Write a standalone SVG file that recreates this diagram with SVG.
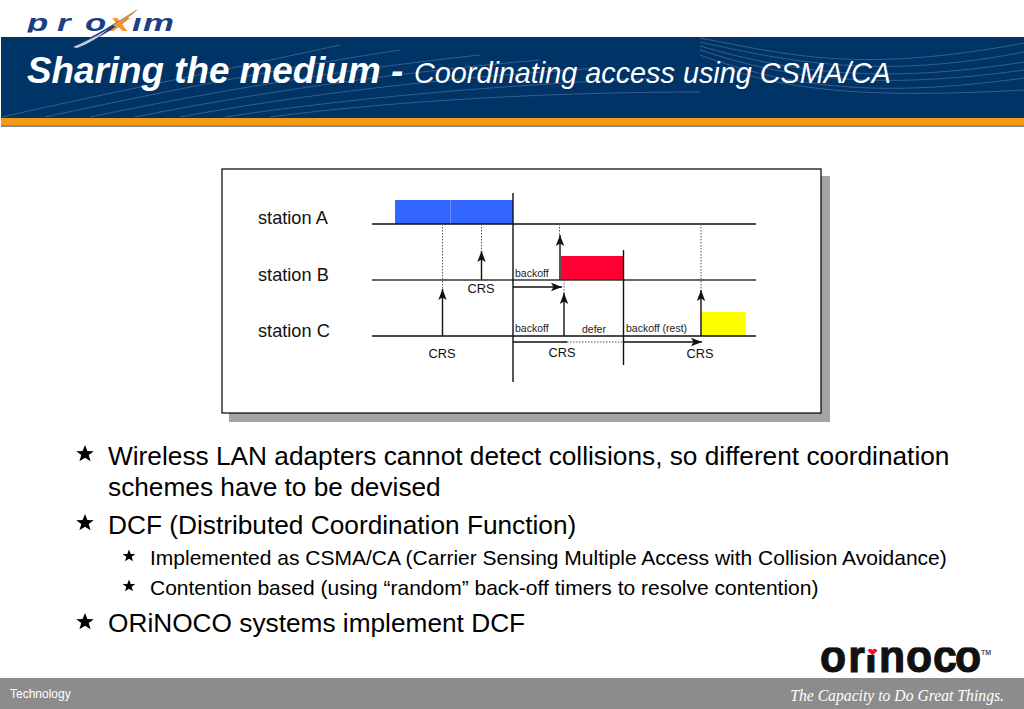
<svg xmlns="http://www.w3.org/2000/svg" width="1024" height="709" viewBox="0 0 1024 709">
<style>
text{font-family:"Liberation Sans",Arial,sans-serif}
.ax{stroke:#111;stroke-width:1.4;fill:none}
.ln{stroke:#333;stroke-width:1.4;fill:none}
.dot{stroke:#555;stroke-width:1;stroke-dasharray:1.5 1.5;fill:none}
.ar{stroke:#111;stroke-width:1.4;fill:none;marker-end:url(#ah)}
.lb{font-size:12.8px;fill:#111;text-anchor:middle}
.st{font-size:18.2px;fill:#111}
.sm{font-size:10.5px;fill:#222}
.b1{font-size:26.25px;fill:#000}
.b2{font-size:21px;fill:#000}
.sw{stroke:#5f7fa5;stroke-width:.8;fill:none;opacity:.7}
</style>
<defs>
<marker id="ah" markerUnits="userSpaceOnUse" markerWidth="12" markerHeight="10" refX="11" refY="5" orient="auto">
<path d="M0,0.8 L11,5 L0,9.200 L2.500,5Z" fill="#111"/>
</marker>
<polygon id="star" points="0,-9 2.400,-2.900 8.800,-2.800 3.700,1.100 5.600,7.300 0,3.700 -5.600,7.300 -3.700,1.100 -8.800,-2.800 -2.400,-2.900"/>
<clipPath id="pc"><rect x="0" y="17.500" width="200" height="15"/></clipPath>
<clipPath id="oc"><rect x="800" y="647.500" width="200" height="30"/></clipPath>
</defs>
<rect width="1024" height="709" fill="#fff"/>
<g id="header">
<rect x="1" y="37" width="1023" height="81" fill="#003366"/>
<g class="swoosh">
<path class="sw" d="M2,117 C120,90 250,65 340,45"/>
<path class="sw" d="M45,117 C170,90 300,65 400,50"/>
<path class="sw" d="M90,117 C210,92 340,70 480,55"/>
<path class="sw" d="M135,117 C260,92 400,72 540,60"/>
<path class="sw" d="M180,117 C300,95 440,78 600,68"/>
<path class="sw" d="M225,117 C350,98 500,85 660,78"/>
<path class="sw" d="M270,117 C400,100 560,92 700,92"/>
<path class="sw" d="M700,38 C790,55 860,74 1024,43"/>
<path class="sw" d="M700,42 C790,62 880,80 1024,52"/>
<path class="sw" d="M700,46 C790,72 880,85 1024,62"/>
<path class="sw" d="M700,50 C790,80 880,90 1024,70"/>
<path class="sw" d="M700,55 C790,88 880,98 1024,78"/>
<path class="sw" d="M730,70 C800,92 880,98 1024,90"/>
</g>
<rect x="1" y="118" width="1023" height="7" fill="#f29a12"/>
<rect x="1" y="125" width="1023" height="2" fill="#8a8a8a"/>
<text x="27" y="82.500" font-size="36.800" font-weight="bold" font-style="italic" fill="#fff">Sharing the medium -</text>
<text x="414" y="83" font-size="28.800" font-style="italic" fill="#fff">Coordinating access using CSMA/CA</text>
</g>
<g id="logo-proxim">
<g clip-path="url(#pc)">
<text transform="scale(1.45 1)" x="18.600 39.300 58.600 75.900 91 98.600" y="31.500" font-size="24" font-weight="bold" font-style="italic" fill="#1c3f86">pro<tspan fill="#f29a2e">x</tspan>im</text>
</g>
<path d="M73,47 C95,35 118,22 138,9 C122,24 100,38 77,48Z" fill="#1c3f86"/>
<path d="M73,47 C90,40 100,34 108,29 C100,37 88,44 77,48Z" fill="#c8cede"/>
<path d="M113,25 L138,9 L120,24 L127,31 L114,26Z" fill="#f29a2e"/>
</g>
<g id="panel">
<rect x="229" y="176" width="601" height="246" fill="#a3a3a8"/>
<rect x="222" y="169" width="599" height="244" fill="#fff" stroke="#000" stroke-width="1.2"/>
</g>
<g id="station-a">
<text class="st" x="258" y="224">station A</text>
<rect x="395" y="200" width="118" height="24" fill="#3366ff"/>
<path d="M450.500,200V224" stroke="#6b8dff" stroke-width="1"/>
</g>
<g id="station-b">
<text class="st" x="258" y="281">station B</text>
<rect x="561" y="256" width="62" height="24" fill="#ff0033"/>
</g>
<g id="station-c">
<text class="st" x="258" y="337">station C</text>
<rect x="701" y="312" width="45" height="24" fill="#ffff00"/>
</g>
<g id="connectors">
<path class="ax" d="M372,224H756"/>
<path class="ln" d="M372,280H756"/>
<path class="ax" d="M372,336H756"/>
<path class="ax" d="M513,193V382"/>
<path class="ax" d="M623.500,250V365"/>
<path class="dot" d="M442.500,224V289M481.500,224V251M559.500,224V235M564,280V293M701,224V290M567,342H623"/>
<path class="ar" d="M442.500,336V289"/>
<path class="ar" d="M481.500,280V251"/>
<path class="ar" d="M560,280V235"/>
<path class="ar" d="M564,336V293"/>
<path class="ar" d="M701,336V290"/>
<path class="ar" d="M513,287H562"/>
<path class="ax" d="M513,342H567"/>
<path class="ar" d="M623,342H702"/>
</g>
<g id="labels">
<text class="lb" x="481" y="293">CRS</text>
<text class="lb" x="442" y="358">CRS</text>
<text class="lb" x="562" y="357">CRS</text>
<text class="lb" x="700" y="358">CRS</text>
<text class="sm" x="515" y="277">backoff</text>
<text class="sm" x="515" y="332">backoff</text>
<text class="sm" x="582" y="333">defer</text>
<text class="sm" x="626" y="332">backoff (rest)</text>
</g>
<g id="bullets">
<use href="#star" x="85" y="454" fill="#000"/>
<text class="b1" x="108" y="465">Wireless LAN adapters cannot detect collisions, so different coordination</text>
<text class="b1" x="108" y="496">schemes have to be devised</text>
<use href="#star" x="85" y="523" fill="#000"/>
<text class="b1" x="108" y="534">DCF (Distributed Coordination Function)</text>
<use href="#star" transform="translate(129,556) scale(.72)" fill="#000"/>
<text class="b2" x="150" y="565">Implemented as CSMA/CA (Carrier Sensing Multiple Access with Collision Avoidance)</text>
<use href="#star" transform="translate(129,586) scale(.72)" fill="#000"/>
<text class="b2" x="150" y="595">Contention based (using “random” back-off timers to resolve contention)</text>
<use href="#star" x="85" y="622" fill="#000"/>
<text class="b1" x="108" y="632">ORiNOCO systems implement DCF</text>
</g>
<g id="footer">
<rect x="0" y="678" width="1024" height="31" fill="#8c8c8c"/>
<text x="10" y="698" font-size="12" fill="#fff">Technology</text>
<text x="1004" y="701" font-size="15.700" font-style="italic" fill="#fff" text-anchor="end" style="font-family:'Liberation Serif',serif">The Capacity to Do Great Things.</text>
</g>
<g id="logo-orinoco">
<g clip-path="url(#oc)">
<text transform="scale(.93 1)" x="881.700 912 930 945.200 974.200 1003.200 1026.900" y="672" font-size="46" font-weight="bold" fill="#111" stroke="#111" stroke-width="1.100">orinoco</text>
</g>
<rect x="866" y="646" width="13" height="9" fill="#fff"/>
<path d="M872.500,655.500 L867.500,650.500 Q870,647.500 872.500,650 Q875,647.500 877.500,650.500Z" fill="#e0182d"/>
<text x="981" y="655" font-size="7" font-weight="bold" fill="#555">TM</text>
</g>
</svg>
